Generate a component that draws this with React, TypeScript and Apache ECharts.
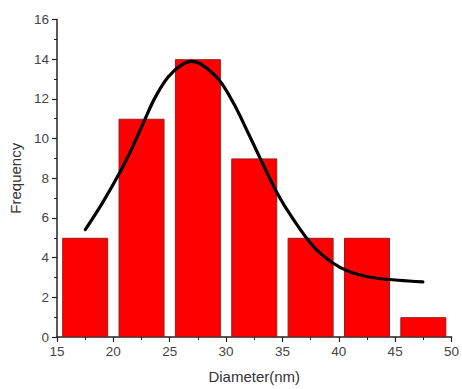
import React, { useEffect, useRef } from "react";
import * as echarts from "echarts";

const binCenters = [17.5, 22.5, 27.5, 32.5, 37.5, 42.5, 47.5];
const frequencies = [5, 11, 14, 9, 5, 5, 1];

const fitX = [17.51, 19.02, 20.63, 21.8, 22.67, 23.69, 24.86, 26.03, 26.96, 27.78, 29.38, 30.69, 31.86, 33.03, 34.49, 35.94, 37.69, 39.44, 40.9, 42.94, 45.28, 47.46];
const fitY = [5.41, 6.75, 8.35, 9.7, 10.8, 12.05, 13.1, 13.7, 13.89, 13.75, 12.95, 11.75, 10.4, 9.0, 7.3, 5.95, 4.6, 3.74, 3.3, 3.0, 2.86, 2.78];

const FONT = "'Liberation Sans', Arial, sans-serif";

export default function App() {
  const ref = useRef<HTMLDivElement>(null);
  useEffect(() => {
    if (!ref.current) return;
    const chart = echarts.init(ref.current, null, { renderer: "svg" });
    chart.setOption({
      animation: false,
      backgroundColor: "#ffffff",
      grid: { left: 54, right: 8, top: 19.5, bottom: 49 },
      xAxis: {
        type: "value",
        min: 15,
        max: 50,
        interval: 5,
        name: "Diameter(nm)",
        nameLocation: "middle",
        nameGap: 32,
        nameTextStyle: { fontFamily: FONT, fontSize: 15, color: "#333" },
        axisLine: { show: true, lineStyle: { color: "#222", width: 1.5 } },
        axisTick: { show: true, inside: false, length: 5, lineStyle: { color: "#222", width: 1.2 } },
        minorTick: { show: true, splitNumber: 2, length: 3, lineStyle: { color: "#222", width: 1 } },
        axisLabel: { fontFamily: FONT, fontSize: 13.5, color: "#444", margin: 7 },
        splitLine: { show: false },
      },
      yAxis: {
        type: "value",
        min: 0,
        max: 16,
        interval: 2,
        name: "Frequency",
        nameLocation: "middle",
        nameGap: 34,
        nameRotate: 90,
        nameTextStyle: { fontFamily: FONT, fontSize: 15, color: "#333" },
        axisLine: { show: true, lineStyle: { color: "#222", width: 1.5 } },
        axisTick: { show: true, inside: false, length: 5, lineStyle: { color: "#222", width: 1.2 } },
        minorTick: { show: true, splitNumber: 2, length: 3, lineStyle: { color: "#222", width: 1 } },
        axisLabel: { fontFamily: FONT, fontSize: 13.5, color: "#444", margin: 8 },
        splitLine: { show: false },
      },
      series: [
        {
          type: "bar",
          data: binCenters.map((c, i) => [c, frequencies[i]]),
          barWidth: 46,
          itemStyle: { color: "#ff0000", borderColor: "#9a1a1a", borderWidth: 1 },
          z: 2,
        },
        {
          type: "line",
          data: fitX.map((x, i) => [x, fitY[i]]),
          smooth: 0.35,
          showSymbol: false,
          symbol: "none",
          lineStyle: { color: "#000", width: 3.2, cap: "round" },
          z: 3,
        },
      ],
    });
    return () => chart.dispose();
  }, []);
  return (
    <div
      ref={ref}
      style={{ position: "fixed", left: 0, top: 0, width: 462, height: 389 }}
    />
  );
}
